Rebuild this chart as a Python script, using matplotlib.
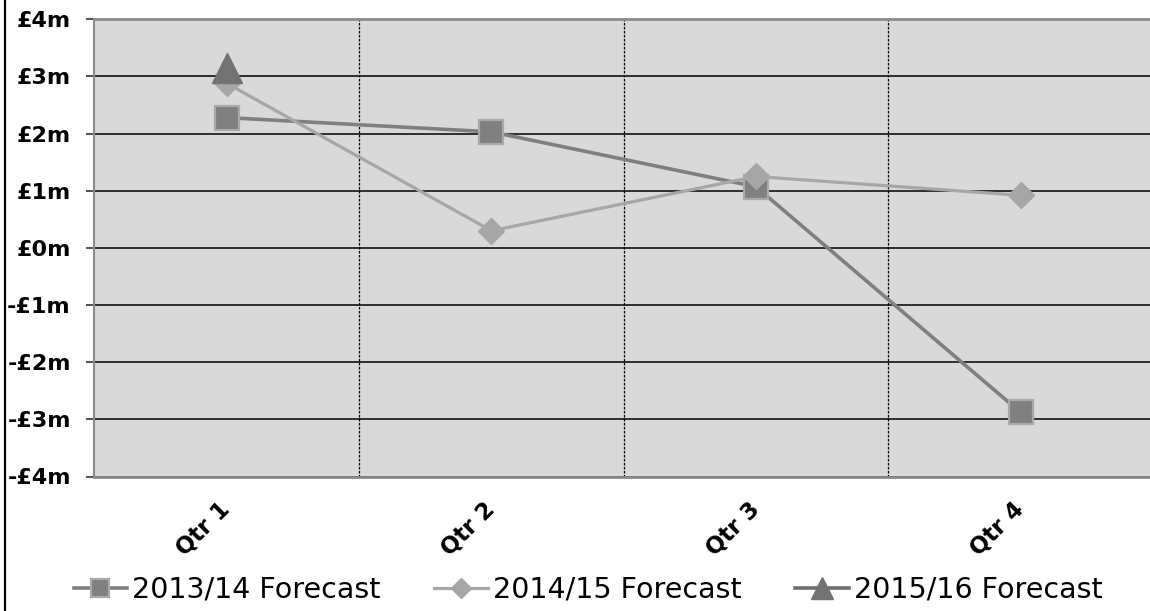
import matplotlib
matplotlib.use("Agg")
import matplotlib.pyplot as plt
from matplotlib.lines import Line2D

# Chart data (values in £m)
QUARTERS = ["Qtr 1", "Qtr 2", "Qtr 3", "Qtr 4"]
FC_2013_14 = [2.28, 2.03, 1.07, -2.88]
FC_2014_15 = [2.88, 0.30, 1.25, 0.92]
FC_2015_16 = [3.14]
SERIES_NAMES = ["2013/14 Forecast", "2014/15 Forecast", "2015/16 Forecast"]
Y_TICKS = [-4, -3, -2, -1, 0, 1, 2, 3, 4]
Y_LABELS = ["-£4m", "-£3m", "-£2m", "-£1m", "£0m", "£1m", "£2m", "£3m", "£4m"]

W, H = 1150, 611


# Draw the quarterly forecast line chart
def plot_forecasts(out_path):
    fig = plt.figure(figsize=(W / 100, H / 100), dpi=100)
    left, right = 94.4 / W, 1153 / W
    top, bottom = 1 - 19.3 / H, 1 - 476.5 / H
    ax = fig.add_axes([left, bottom, right - left, top - bottom])
    ax.set_facecolor("#d9d9d9")

    x = range(len(QUARTERS))
    ax.plot(x, FC_2013_14, color="#7f7f7f", lw=2.6, marker="s", ms=17,
            mfc="#808080", mec="#a9a9a9", mew=1.6, label=SERIES_NAMES[0], zorder=3)
    ax.plot(x, FC_2014_15, color="#a6a6a6", lw=2.3, marker="D", ms=13.5,
            mfc="#a6a6a6", mec="#a6a6a6", mew=1, label=SERIES_NAMES[1], zorder=4)
    ax.plot(range(len(FC_2015_16)), FC_2015_16, color="#6e6e6e", lw=2.6, marker="^",
            ms=21, mfc="#727272", mec="#727272", mew=1, label=SERIES_NAMES[2], zorder=5)

    ax.set_xlim(-0.5, len(QUARTERS) - 0.5)
    ax.set_ylim(-4, 4)

    # y axis
    ax.set_yticks(Y_TICKS)
    ax.set_yticklabels(Y_LABELS, fontsize=16, fontweight="bold")
    ax.tick_params(axis="y", direction="out", length=6, width=1.2, color="#333333", pad=11)
    ax.yaxis.grid(True, color="black", lw=1.1)

    # x axis: category labels, dashed lines between categories
    ax.set_xticks(list(x))
    ax.set_xticklabels(QUARTERS, fontsize=16.5, fontweight="bold", rotation=45,
                       ha="right", va="center", rotation_mode="anchor")
    ax.tick_params(axis="x", length=0, pad=21)
    ax.set_xticks([i + 0.5 for i in range(len(QUARTERS) - 1)], minor=True)
    ax.tick_params(axis="x", which="minor", length=0)
    ax.xaxis.grid(True, which="minor", color="black", lw=0.9, linestyle=(0, (2, 1.2)))
    ax.set_axisbelow(True)

    for side in ["top", "bottom"]:
        ax.spines[side].set_color("#8a8a8a")
        ax.spines[side].set_linewidth(2)
    ax.spines["left"].set_color("#8a8a8a")
    ax.spines["left"].set_linewidth(1.5)
    ax.spines["right"].set_visible(False)

    fig.legend(loc="center", bbox_to_anchor=(588 / W, 1 - 590 / H), ncol=3,
               frameon=False, fontsize=20.5, handlelength=1.87, handletextpad=0.18,
               columnspacing=1.9, markerscale=0.75)

    # chart border on the left edge
    fig.add_artist(Line2D([5 / W, 5 / W], [0, 1], color="black", lw=1.6,
                          transform=fig.transFigure))

    fig.savefig(out_path, dpi=100)
    plt.close(fig)


def main():
    plot_forecasts("out.png")


if __name__ == "__main__":
    main()
